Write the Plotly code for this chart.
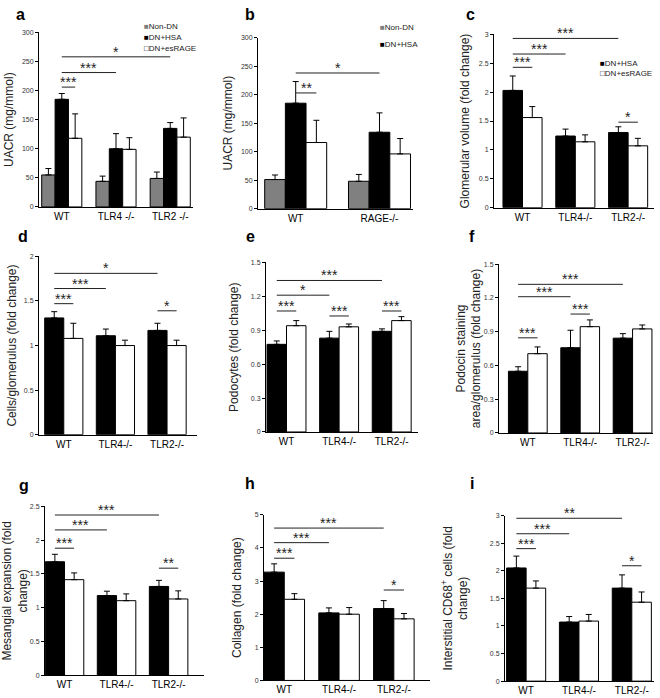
import plotly.graph_objects as go

W, H = 660, 698

# category labels
groups_a = ["WT", "TLR4 -/-", "TLR2 -/-"]
groups_b = ["WT", "RAGE-/-"]
groups = ["WT", "TLR4-/-", "TLR2-/-"]

# a: UACR
a_nondn = [55, 44, 49]
a_nondn_err = [11, 9, 11]
a_hsa = [185, 100, 135]
a_hsa_err = [10, 26, 10]
a_esrage = [118, 99, 120]
a_esrage_err = [42, 20, 33]

# b: UACR, RAGE-/-
b_nondn = [51, 48]
b_nondn_err = [8, 12]
b_hsa = [185, 134]
b_hsa_err = [38, 34]
b_esrage = [116, 96]
b_esrage_err = [39, 27]

# c: glomerular volume
c_hsa = [2.03, 1.24, 1.30]
c_hsa_err = [0.25, 0.12, 0.10]
c_esrage = [1.56, 1.14, 1.07]
c_esrage_err = [0.19, 0.12, 0.13]

# d: cells/glomerulus
d_hsa = [1.31, 1.11, 1.17]
d_hsa_err = [0.07, 0.075, 0.08]
d_esrage = [1.08, 1.00, 1.00]
d_esrage_err = [0.17, 0.06, 0.06]

# e: podocytes
e_hsa = [0.775, 0.83, 0.89]
e_hsa_err = [0.03, 0.06, 0.022]
e_esrage = [0.94, 0.93, 0.985]
e_esrage_err = [0.045, 0.025, 0.035]

# f: podocin staining
f_hsa = [0.548, 0.757, 0.842]
f_hsa_err = [0.04, 0.155, 0.04]
f_esrage = [0.704, 0.944, 0.924]
f_esrage_err = [0.06, 0.06, 0.035]

# g: mesangial expansion
g_hsa = [1.68, 1.18, 1.315]
g_hsa_err = [0.11, 0.065, 0.09]
g_esrage = [1.415, 1.105, 1.13]
g_esrage_err = [0.10, 0.10, 0.12]

# h: collagen
h_hsa = [3.27, 2.04, 2.17]
h_hsa_err = [0.25, 0.15, 0.24]
h_esrage = [2.45, 2.00, 1.86]
h_esrage_err = [0.17, 0.20, 0.16]

# i: CD68+ cells
i_hsa = [2.05, 1.07, 1.685]
i_hsa_err = [0.215, 0.10, 0.24]
i_esrage = [1.685, 1.088, 1.43]
i_esrage_err = [0.13, 0.12, 0.185]

# significance: (group, bar, group, bar, level, stars)
sig_a = [(0, 1, 0, 2, 206, "***"), (0, 1, 1, 1, 231, "***"), (0, 1, 2, 1, 258, "*")]
sig_b = [(0, 1, 0, 2, 203, "**"), (0, 1, 1, 1, 238, "*")]
sig_c = [(0, 0, 0, 1, 2.43, "***"), (0, 0, 1, 0, 2.66, "***"), (0, 0, 2, 0, 2.93, "***"), (2, 0, 2, 1, 1.48, "*")]
sig_d = [(0, 0, 0, 1, 1.47, "***"), (0, 0, 1, 0, 1.64, "***"), (0, 0, 2, 0, 1.81, "*"), (2, 0, 2, 1, 1.39, "*")]
sig_e = [(0, 0, 0, 1, 1.07, "***"), (0, 0, 1, 0, 1.21, "*"), (0, 0, 2, 0, 1.34, "***"),
         (1, 0, 1, 1, 1.026, "***"), (2, 0, 2, 1, 1.07, "***")]
sig_f = [(0, 0, 0, 1, 0.845, "***"), (1, 0, 1, 1, 1.056, "***"), (0, 0, 1, 0, 1.21, "***"), (0, 0, 2, 0, 1.32, "***")]
sig_g = [(0, 0, 0, 1, 1.88, "***"), (0, 0, 1, 0, 2.15, "***"), (0, 0, 2, 0, 2.37, "***"), (2, 0, 2, 1, 1.585, "**")]
sig_h = [(0, 0, 0, 1, 3.69, "***"), (0, 0, 1, 0, 4.16, "***"), (0, 0, 2, 0, 4.6, "***"), (2, 0, 2, 1, 2.73, "*")]
sig_i = [(0, 0, 0, 1, 2.4, "***"), (0, 0, 1, 0, 2.67, "***"), (0, 0, 2, 0, 2.95, "**"), (2, 0, 2, 1, 2.09, "*")]

FILL = {"Non-DN": "#808080", "DN+HSA": "black", "DN+esRAGE": "white"}
FONT = "Liberation Sans, Arial, sans-serif"
BARGAP = 0.26

panels = [
    dict(lab="a", cats=groups_a, ser=[("Non-DN", a_nondn, a_nondn_err), ("DN+HSA", a_hsa, a_hsa_err),
                                      ("DN+esRAGE", a_esrage, a_esrage_err)],
         yt="UACR (mg/mmol)", ymax=300, dt=50, sig=sig_a, box=(39, 193, 28.7, 205), xr=(-0.42, 2.42),
         so=5, labpos=(20, 11), leg=(["Non-DN", "DN+HSA", "DN+esRAGE"], 142, [23, 34, 45])),
    dict(lab="b", cats=groups_b, ser=[("Non-DN", b_nondn, b_nondn_err), ("DN+HSA", b_hsa, b_hsa_err),
                                      ("DN+esRAGE", b_esrage, b_esrage_err)],
         yt="UACR (mg/mmol)", ymax=300, dt=50, sig=sig_b, box=(258, 413, 34, 206.7), xr=(-0.45, 1.40),
         so=5, labpos=(250, 11), leg=(["Non-DN", "DN+HSA"], 378, [24, 41])),
    dict(lab="c", cats=groups, ser=[("DN+HSA", c_hsa, c_hsa_err), ("DN+esRAGE", c_esrage, c_esrage_err)],
         yt="Glomerular volume (fold change)", ymax=3, dt=0.5, sig=sig_c, box=(494, 654, 30.7, 205.7),
         xr=(-0.54, 2.49), so=6, labpos=(470, 11), leg=(["DN+HSA", "DN+esRAGE"], 598, [60, 70])),
    dict(lab="d", cats=groups, ser=[("DN+HSA", d_hsa, d_hsa_err), ("DN+esRAGE", d_esrage, d_esrage_err)],
         yt="Cells/glomerulus (fold change)", ymax=2, dt=0.5, sig=sig_d, box=(39, 197, 255, 435),
         xr=(-0.48, 2.58), so=4, labpos=(23, 235)),
    dict(lab="e", cats=groups, ser=[("DN+HSA", e_hsa, e_hsa_err), ("DN+esRAGE", e_esrage, e_esrage_err)],
         yt="Podocytes (fold change)", ymax=1.5, dt=0.3, sig=sig_e, box=(266, 418, 261, 432.3),
         xr=(-0.39, 2.50), so=9, labpos=(250, 235)),
    dict(lab="f", cats=groups, ser=[("DN+HSA", f_hsa, f_hsa_err), ("DN+esRAGE", f_esrage, f_esrage_err)],
         yt="Podocin staining<br>area/glomerulus (fold change)", ymax=1.5, dt=0.3, sig=sig_f,
         box=(499, 653, 262.7, 433.3), xr=(-0.55, 2.39), so=0, labpos=(472, 235)),
    dict(lab="g", cats=groups, ser=[("DN+HSA", g_hsa, g_hsa_err), ("DN+esRAGE", g_esrage, g_esrage_err)],
         yt="Mesangial expansion (fold<br>change)", ymax=2.5, dt=0.5, sig=sig_g, box=(45, 204, 507.3, 678.3),
         xr=(-0.375, 2.68), so=4, labpos=(24, 486)),
    dict(lab="h", cats=groups, ser=[("DN+HSA", h_hsa, h_hsa_err), ("DN+esRAGE", h_esrage, h_esrage_err)],
         yt="Collagen (fold change)", ymax=5, dt=1, sig=sig_h, box=(264, 430, 516, 683.3),
         xr=(-0.37, 2.66), so=10, labpos=(250, 484)),
    dict(lab="i", cats=groups, ser=[("DN+HSA", i_hsa, i_hsa_err), ("DN+esRAGE", i_esrage, i_esrage_err)],
         yt="Interstitial CD68<sup>+</sup> cells (fold<br>change)", ymax=3, dt=0.5, sig=sig_i,
         box=(505, 654, 516.7, 684), xr=(-0.4, 2.42), so=19, labpos=(472, 484)),
]

fig = go.Figure()
shapes, annos = [], []
layout = {}


def bar_center(n, j):
    w = 1 - BARGAP
    return -w / 2 + (j + 0.5) * w / n


for k, p in enumerate(panels, start=1):
    xa = "x" if k == 1 else f"x{k}"
    ya = "y" if k == 1 else f"y{k}"
    n = len(p["ser"])
    for name, vals, err in p["ser"]:
        fig.add_trace(go.Bar(
            x=p["cats"], y=vals, name=name, xaxis=xa, yaxis=ya, showlegend=False,
            offsetgroup=name,
            marker=dict(color=FILL[name], line=dict(color="black", width=1)),
            error_y=dict(type="data", array=err, arrayminus=[0] * len(err), symmetric=False,
                         color="black", thickness=1, width=3),
        ))
    x0, x1, yt, yb = p["box"]
    layout["xaxis" if k == 1 else f"xaxis{k}"] = dict(
        domain=[x0 / W, x1 / W], anchor=ya, type="category", range=list(p["xr"]),
        showline=True, linecolor="black", linewidth=1, ticks="", showgrid=False, zeroline=False,
        tickfont=dict(size=10, color="black", family=FONT), fixedrange=True,
    )
    layout["yaxis" if k == 1 else f"yaxis{k}"] = dict(
        domain=[1 - yb / H, 1 - yt / H], anchor=xa, range=[0, p["ymax"]], dtick=p["dt"], tick0=0,
        showline=True, linecolor="black", linewidth=1, ticks="outside", ticklen=3, tickcolor="black",
        showgrid=False, zeroline=False, tickfont=dict(size=7, color="#333", family=FONT),
        title=dict(text=p["yt"], font=dict(size=12, color="#222", family=FONT), standoff=p["so"]),
        fixedrange=True,
    )
    for g1, b1, g2, b2, lvl, stars in p["sig"]:
        sx0 = g1 + bar_center(n, b1)
        sx1 = g2 + bar_center(n, b2)
        shapes.append(dict(type="line", xref=xa, yref=ya, x0=sx0, x1=sx1, y0=lvl, y1=lvl,
                           line=dict(color="#222", width=1)))
        annos.append(dict(xref=xa, yref=ya, x=(sx0 + sx1) / 2, y=lvl, text=stars, showarrow=False,
                          xanchor="center", yanchor="bottom", yshift=-5,
                          font=dict(size=14, color="#222", family=FONT)))
    lx, ly = p["labpos"]
    annos.append(dict(xref="paper", yref="paper", x=lx / W, y=1 - ly / H, text=f"<b>{p['lab']}</b>",
                      showarrow=False, xanchor="center", yanchor="middle",
                      font=dict(size=16, color="black", family=FONT)))
    if "leg" in p:
        names, lxp, lys = p["leg"]
        for nm, lyp in zip(names, lys):
            sq = "□" if FILL[nm] == "white" else "■"
            col = "black" if FILL[nm] == "white" else FILL[nm]
            annos.append(dict(xref="paper", yref="paper", x=lxp / W, y=1 - lyp / H,
                              text=f'<span style="color:{col}">{sq}</span>{nm}', showarrow=False,
                              xanchor="left", yanchor="middle",
                              font=dict(size=8, color="#222", family=FONT)))

fig.update_layout(
    width=W, height=H, margin=dict(l=0, r=0, t=0, b=0),
    paper_bgcolor="white", plot_bgcolor="white",
    barmode="group", bargap=BARGAP, bargroupgap=0,
    font=dict(family=FONT, color="black"),
    shapes=shapes, annotations=annos, showlegend=False,
    **layout,
)

fig.write_html("out.html", config={"displayModeBar": False},
               post_script="document.body.style.margin='0';")
